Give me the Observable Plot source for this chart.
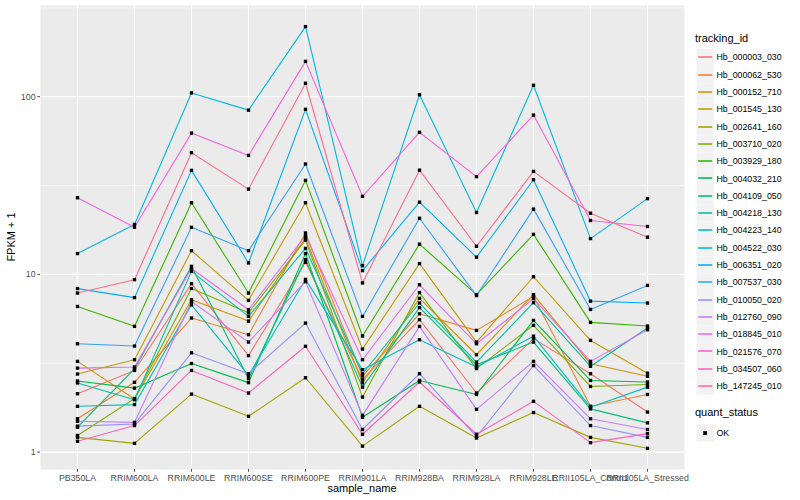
<!DOCTYPE html>
<html>
<head>
<meta charset="utf-8">
<script src="https://cdn.jsdelivr.net/npm/d3@7"></script>
<script src="https://cdn.jsdelivr.net/npm/@observablehq/plot@0.6"></script>
<style>
  html, body { margin: 0; padding: 0; background: white; }
  svg { font-family: "Liberation Sans", Arial, sans-serif; }
</style>
</head>
<body>
<div id="chart"></div>
<script>
const samples = ["PB350LA","RRIM600LA","RRIM600LE","RRIM600SE","RRIM600PE","RRIM901LA","RRIM928BA","RRIM928LA","RRIM928LE","RRII105LA_Control","RRII105LA_Stressed"];

const trackingIds = ["Hb_000003_030","Hb_000062_530","Hb_000152_710","Hb_001545_130","Hb_002641_160","Hb_003710_020","Hb_003929_180","Hb_004032_210","Hb_004109_050","Hb_004218_130","Hb_004223_140","Hb_004522_030","Hb_006351_020","Hb_007537_030","Hb_010050_020","Hb_012760_090","Hb_018845_010","Hb_021576_070","Hb_034507_060","Hb_147245_010"];

const idColors = ["#F8766D","#EA8331","#D89000","#C09B00","#A3A500","#7CAE00","#39B600","#00BB4E","#00BF7D","#00C1A3","#00BFC4","#00BAE0","#00B0F6","#35A2FF","#9590FF","#C77CFF","#E76BF3","#FA62DB","#FF62BC","#FF6C91"];

const quantStatus = ["OK"];
const yTicks = [1, 10, 100];

// FPKM + 1 per sample, in the order of `samples`
const Hb_000003_030 = [2.13, 2.88, 8.87, 3.49, 11.7, 2.56, 5.56, 2.15, 4.35, 2.76, 1.68];
const Hb_000062_530 = [1.54, 2.47, 5.68, 4.58, 17.1, 2.68, 6.0, 4.84, 7.52, 1.81, 2.11];
const Hb_000152_710 = [3.24, 1.99, 7.2, 5.46, 16.0, 2.45, 7.33, 3.53, 7.69, 3.14, 2.67];
const Hb_001545_130 = [2.75, 3.31, 13.6, 7.14, 25.3, 3.8, 11.5, 4.16, 9.7, 4.25, 2.78];
const Hb_002641_160 = [1.21, 1.12, 2.12, 1.59, 2.62, 1.08, 1.81, 1.2, 1.67, 1.21, 1.05];
const Hb_003710_020 = [1.24, 2.0, 8.33, 6.08, 15.6, 2.04, 7.9, 2.95, 5.17, 2.34, 2.40];
const Hb_003929_180 = [6.6, 5.1, 25.3, 7.85, 33.8, 4.5, 14.8, 7.69, 16.8, 5.37, 5.12];
const Hb_004032_210 = [2.51, 2.29, 3.15, 2.46, 13.1, 1.57, 2.53, 2.11, 5.51, 2.53, 2.48];
const Hb_004109_050 = [1.38, 2.94, 11.1, 2.59, 12.1, 2.32, 6.5, 3.1, 4.16, 1.75, 1.46];
const Hb_004218_130 = [2.45, 1.97, 10.4, 5.8, 14.0, 2.76, 6.9, 3.21, 6.93, 3.04, 4.99];
const Hb_004223_140 = [1.81, 1.85, 6.74, 2.70, 9.37, 2.91, 4.29, 3.01, 4.49, 1.79, 2.32];
const Hb_004522_030 = [13.1, 19.1, 105, 84, 248, 11.2, 102.6, 22.3, 116, 15.9, 26.7];
const Hb_006351_020 = [8.32, 7.4, 38.5, 11.6, 84.9, 10.5, 25.5, 12.5, 34.1, 7.07, 6.9];
const Hb_007537_030 = [4.07, 3.95, 18.4, 13.6, 41.8, 5.8, 20.7, 7.6, 23.3, 6.35, 8.67];
const Hb_010050_020 = [1.40, 1.44, 3.62, 2.76, 5.32, 1.34, 2.76, 1.22, 3.07, 1.41, 1.21];
const Hb_012760_090 = [1.49, 1.47, 7.04, 4.16, 9.1, 1.61, 5.1, 1.74, 3.24, 1.54, 1.34];
const Hb_018845_010 = [2.97, 3.01, 10.8, 6.33, 16.5, 3.31, 8.74, 4.07, 7.3, 3.24, 4.88];
const Hb_021576_070 = [27, 18.4, 62.4, 46.7, 158, 27.5, 63, 35.5, 78.8, 20.1, 18.6];
const Hb_034507_060 = [1.15, 1.41, 2.88, 2.15, 3.94, 1.26, 2.48, 1.26, 1.93, 1.13, 1.27];
const Hb_147245_010 = [7.85, 9.34, 48.4, 30.2, 119, 8.95, 38.6, 14.4, 38, 22.1, 16.2];

const seriesValues = [Hb_000003_030, Hb_000062_530, Hb_000152_710, Hb_001545_130, Hb_002641_160, Hb_003710_020, Hb_003929_180, Hb_004032_210, Hb_004109_050, Hb_004218_130, Hb_004223_140, Hb_004522_030, Hb_006351_020, Hb_007537_030, Hb_010050_020, Hb_012760_090, Hb_018845_010, Hb_021576_070, Hb_034507_060, Hb_147245_010];

const data = [];
trackingIds.forEach((id, i) => {
  samples.forEach((s, j) => data.push({id, sample: s, value: seriesValues[i][j], status: "OK"}));
});

const chart = Plot.plot({
  width: 800,
  height: 500,
  marginLeft: 40,
  marginRight: 116,
  marginTop: 5,
  marginBottom: 31,
  style: {fontFamily: "Liberation Sans, Arial, sans-serif", fontSize: "8.8px", background: "white"},
  x: {type: "point", domain: samples, padding: 0.6, label: null},
  y: {type: "log", domain: [0.798, 326], label: null},
  color: {domain: trackingIds, range: idColors},
  marks: [
    Plot.frame({fill: "#EBEBEB", stroke: "none"}),
    Plot.gridY([Math.sqrt(10), Math.sqrt(1000), Math.sqrt(100000)], {stroke: "white", strokeOpacity: 1, strokeWidth: 0.55}),
    Plot.gridY(yTicks, {stroke: "white", strokeOpacity: 1, strokeWidth: 1.1}),
    Plot.gridX(samples, {stroke: "white", strokeOpacity: 1, strokeWidth: 1.1}),
    Plot.line(data, {x: "sample", y: "value", z: "id", stroke: "id", strokeWidth: 1.1}),
    Plot.dot(data, {x: "sample", y: "value", symbol: "square", r: 1.9, fill: "black", stroke: "none"}),
    Plot.axisY(yTicks, {tickFormat: d => String(d), tickSize: 2.75, tickPadding: 2.2, fontSize: 8.8, color: "#4D4D4D", label: null}),
    Plot.axisX({tickSize: 2.75, tickPadding: 2.2, fontSize: 8.8, color: "#4D4D4D", label: null})
  ]
});

document.getElementById("chart").appendChild(chart);

const svg = d3.select(chart);
// axis titles
svg.append("text").attr("x", 362).attr("y", 492).attr("text-anchor", "middle")
  .attr("font-size", 11).attr("fill", "black").text("sample_name");
svg.append("text").attr("transform", "translate(15,237) rotate(-90)").attr("text-anchor", "middle")
  .attr("font-size", 11).attr("fill", "black").text("FPKM + 1");

// legends
const lg = svg.append("g").attr("font-family", "Liberation Sans, Arial, sans-serif").attr("text-anchor", "start");
lg.append("text").attr("x", 695).attr("y", 42).attr("text-anchor", "start").attr("font-size", 11).attr("fill", "black").text("tracking_id");
const keyH = 17.3;
trackingIds.forEach((id, i) => {
  const y0 = 48.7 + i * keyH;
  const yc = Math.round(y0 + keyH / 2);
  lg.append("rect").attr("x", 696.5).attr("y", y0).attr("width", keyH).attr("height", keyH).attr("fill", "#F2F2F2");
  lg.append("line").attr("x1", 698.2).attr("x2", 712.2).attr("y1", yc).attr("y2", yc)
    .attr("stroke", idColors[i]).attr("stroke-width", 1.6);
  lg.append("text").attr("x", 716.5).attr("y", y0 + keyH / 2 + 3.1).attr("text-anchor", "start").attr("font-size", 8.8).attr("fill", "black").text(id);
});
lg.append("text").attr("x", 695).attr("y", 416).attr("text-anchor", "start").attr("font-size", 11).attr("fill", "black").text("quant_status");
quantStatus.forEach((q, i) => {
  const y0 = 424.4 + i * keyH;
  lg.append("rect").attr("x", 696.5).attr("y", y0).attr("width", keyH).attr("height", keyH).attr("fill", "#F2F2F2");
  lg.append("rect").attr("x", 696.5 + keyH / 2 - 1.9).attr("y", y0 + keyH / 2 - 1.9).attr("width", 3.8).attr("height", 3.8).attr("fill", "black");
  lg.append("text").attr("x", 716.5).attr("y", y0 + keyH / 2 + 3.1).attr("text-anchor", "start").attr("font-size", 8.8).attr("fill", "black").text(q);
});
</script>
</body>
</html>
